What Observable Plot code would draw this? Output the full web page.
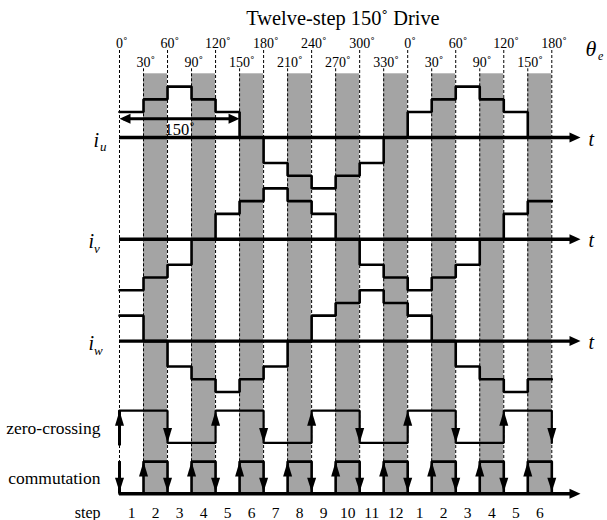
<!DOCTYPE html>
<html><head><meta charset="utf-8">
<script src="https://cdn.jsdelivr.net/npm/d3@7"></script>
<script src="https://cdn.jsdelivr.net/npm/@observablehq/plot@0.6"></script>
<style>
body{margin:0;background:#fff;width:607px;height:520px;overflow:hidden}
#title{position:relative;width:607px;height:30px;font-family:"Liberation Serif","Times New Roman",serif;font-size:20.4px;color:#000}
#title span{position:absolute;left:193px;width:300px;top:8px;line-height:20px;text-align:center;white-space:nowrap}
#chart svg, #chart svg text{font-family:"Liberation Serif","Times New Roman",serif !important}
</style></head>
<body>
<div id="title"><span>Twelve-step 150˚ Drive</span></div>
<div id="chart"></div>
<script>
// ---------- data ----------
const intervalStart = [0,30,60,90,120,150,180,210,240,270,300,330,360,390,420,450,480,510];
const stepLabels = ["1","2","3","4","5","6","7","8","9","10","11","12","1","2","3","4","5","6"];
const iuLevels = [0.5,0.75,1,0.75,0.5,0,-0.5,-0.75,-1,-0.75,-0.5,0,0.5,0.75,1,0.75,0.5,0];
const ivLevels = [-1,-0.75,-0.5,0,0.5,0.75,1,0.75,0.5,0,-0.5,-0.75,-1,-0.75,-0.5,0,0.5,0.75];
const iwLevels = [0.5,0,-0.5,-0.75,-1,-0.75,-0.5,0,0.5,0.75,1,0.75,0.5,0,-0.5,-0.75,-1,-0.75];
const zeroCrossing = [1,1,0,0,1,1,0,0,1,1,0,0,1,1,0,0,1,1];
const commutation = [0,1,0,1,0,1,0,1,0,1,0,1,0,1,0,1,0,1];
const shadedStart = [30,90,150,210,270,330,390,450,510];
const majorAngles = [0,60,120,180,240,300,360,420,480,540];
const majorLabels = ["0˚","60˚","120˚","180˚","240˚","300˚","0˚","60˚","120˚","180˚"];
const minorAngles = [30,90,150,210,270,330,390,450,510];
const minorLabels = ["30˚","90˚","150˚","210˚","270˚","330˚","30˚","90˚","150˚"];
const conduction = 150;
const endAngle = 540;
const phases = ["u","v","w"];

// ---------- layout ----------
const W = 607, H = 490, TOP = 30;
const X0 = 119, X1 = 551.3, PPD = (X1 - X0) / endAngle;
const UNIT = 50.9, BASE_PAGE = 137;
const u = p => (BASE_PAGE - p) / UNIT;      // page y (px) -> y units
const deg = p => (p - X0) / PPD;            // page x (px) -> degrees
const rowBase = [0, -2, -4];
const ZC_LOW = -6, SIG_AMP = 0.633, COMM_BASE = -7;
const GRAY_TOP = u(73.3), EVEN_TOP = u(50), ODD_TOP = u(68.3);
const AXIS_END = deg(574), AXIS_TIP = deg(580);
const serif = "Liberation Serif";

const tri = pts => ({draw(ctx){ctx.moveTo(pts[0][0],pts[0][1]); for (const p of pts.slice(1)) ctx.lineTo(p[0],p[1]); ctx.closePath();}});
const headUp = tri([[0,0],[-4.5,15],[4.5,15]]);
const headDown = tri([[0,0],[-4.5,-15],[4.5,-15]]);
const headDownC = tri([[0,-2],[-4.5,-16],[4.5,-16]]);
const headRight = tri([[0,0],[-11,-5],[-11,5]]);
const headLeft = tri([[0,0],[11,-5],[11,5]]);

const stepPts = (levels, base, amp, final) =>
  [...levels.map((v,i) => ({x: intervalStart[i], y: base + v*amp})),
   {x: endAngle, y: base + (final === undefined ? levels[levels.length-1] : final)*amp}];

function edges(levels) {
  const out = [];
  const n = levels.length;
  for (let i = 0; i <= n; i++) {
    const v = i < n ? levels[i] : 0;
    const prev = i === 0 ? 1 - v : levels[i-1];
    if (v !== prev) out.push({x: i < n ? intervalStart[i] : endAngle, up: v > prev, first: i === 0});
  }
  return out;
}
const zcEdges = edges(zeroCrossing);
const cmEdges = edges(commutation);

const LW = 2.6;
const T = (data, opts) => Plot.text(data, {fill: "black", fontFamily: serif, ...opts});
const marks = [];

// shaded bands
marks.push(Plot.rect(shadedStart, {x1: d => d, x2: d => d + 30, y1: () => COMM_BASE, y2: () => GRAY_TOP, fill: "#a4a4a4"}));
// dashed guide lines
marks.push(Plot.ruleX(majorAngles, {x: d => d, y1: () => EVEN_TOP, y2: () => COMM_BASE, stroke: "black", strokeWidth: 1, strokeDasharray: "3,2"}));
marks.push(Plot.ruleX(minorAngles, {x: d => d, y1: () => ODD_TOP, y2: () => COMM_BASE, stroke: "black", strokeWidth: 1, strokeDasharray: "3,2"}));

// phase currents
[iuLevels, ivLevels, iwLevels].forEach((lv, k) => {
  marks.push(Plot.line(stepPts(lv, rowBase[k], 1), {x: "x", y: "y", curve: "step-after", stroke: "black", strokeWidth: LW, strokeLinejoin: "miter"}));
});

// zero-crossing and commutation signals
marks.push(Plot.line(stepPts(zeroCrossing, ZC_LOW, SIG_AMP, 0), {x: "x", y: "y", curve: "step-after", stroke: "black", strokeWidth: 2.2, strokeLinejoin: "miter"}));
marks.push(Plot.line(stepPts(commutation, COMM_BASE, SIG_AMP, 0), {x: "x", y: "y", curve: "step-after", stroke: "black", strokeWidth: 2.6, strokeLinejoin: "miter"}));
// shafts for the initial edges
marks.push(Plot.ruleX(zcEdges.filter(d => d.first), {x: "x", y1: () => ZC_LOW - 0.06, y2: () => ZC_LOW + SIG_AMP, stroke: "black", strokeWidth: 3}));
marks.push(Plot.ruleX(cmEdges.filter(d => d.first), {x: "x", y1: () => COMM_BASE + SIG_AMP, y2: () => COMM_BASE, stroke: "black", strokeWidth: 3}));
// arrow heads on edges
marks.push(Plot.dot(zcEdges.filter(d => d.up), {x: "x", y: () => ZC_LOW + SIG_AMP, symbol: headUp, fill: "black"}));
marks.push(Plot.dot(zcEdges.filter(d => !d.up), {x: "x", y: () => ZC_LOW, symbol: headDown, fill: "black"}));
marks.push(Plot.dot(cmEdges.filter(d => d.up), {x: "x", y: () => COMM_BASE + SIG_AMP, symbol: headUp, fill: "black"}));
marks.push(Plot.dot(cmEdges.filter(d => !d.up), {x: "x", y: () => COMM_BASE, symbol: headDownC, fill: "black"}));

// time axes
const axisRows = [...rowBase, COMM_BASE];
marks.push(Plot.ruleY(axisRows, {y: d => d, x1: () => 0, x2: () => AXIS_END, stroke: "black", strokeWidth: 3.4}));
marks.push(Plot.dot(axisRows, {x: () => AXIS_TIP, y: d => d, symbol: headRight, fill: "black"}));

// 150° conduction dimension arrow
const DIM_Y = u(118.3);
marks.push(Plot.ruleY([DIM_Y], {y: d => d, x1: () => 5, x2: () => conduction - 5, stroke: "black", strokeWidth: 3}));
marks.push(Plot.dot([0], {x: d => d, y: () => DIM_Y, symbol: headLeft, fill: "black"}));
marks.push(Plot.dot([conduction], {x: d => d, y: () => DIM_Y, symbol: headRight, fill: "black"}));
marks.push(T([conduction], {x: d => d / 2, y: () => u(129.6), text: d => d + "˚", fontSize: 16.5}));

// angle labels
marks.push(T(majorAngles, {x: d => d, y: () => u(43.2), text: (d, i) => majorLabels[i], fontSize: 14, dx: 2.3}));
marks.push(T(minorAngles, {x: d => d, y: () => u(62.2), text: (d, i) => minorLabels[i], fontSize: 14, dx: 2.3}));
marks.push(T(["θ"], {x: () => deg(585), y: () => u(48), text: d => d, fontSize: 22, fontStyle: "italic", textAnchor: "start"}));
marks.push(T(["e"], {x: () => deg(597.5), y: () => u(56), text: d => d, fontSize: 12, fontStyle: "italic", textAnchor: "start"}));

// row labels
const rowLabelX = [[93, 99.5], [88, 93.5], [88, 93.5]];
phases.forEach((p, k) => {
  marks.push(T([p], {x: () => deg(rowLabelX[k][0]), y: () => rowBase[k], text: () => "i", fontSize: 20, fontStyle: "italic", textAnchor: "start", dy: 2.6}));
  marks.push(T([p], {x: () => deg(rowLabelX[k][1]), y: () => rowBase[k], text: d => d, fontSize: 13, fontStyle: "italic", textAnchor: "start", dy: 9.8}));
});
marks.push(T(rowBase, {x: () => deg(588), y: d => d, text: () => "t", fontSize: 20, fontStyle: "italic", textAnchor: "start", dy: 1.6}));

marks.push(T(["zero-crossing"], {x: () => deg(100), y: () => u(427.4), text: d => d, fontSize: 17.5, textAnchor: "end"}));
marks.push(T(["commutation"], {x: () => deg(100), y: () => u(477.7), text: d => d, fontSize: 17.5, textAnchor: "end"}));
marks.push(T(["step"], {x: () => deg(100), y: () => u(512.4), text: d => d, fontSize: 16, textAnchor: "end"}));
marks.push(T(intervalStart, {x: d => d + 15, y: () => u(512.7), text: (d, i) => stepLabels[i], fontSize: 15.5}));

const chart = Plot.plot({
  width: W, height: H,
  marginLeft: 0, marginRight: 0, marginTop: 0, marginBottom: 0,
  x: {domain: [0, endAngle], range: [X0, X1], axis: null},
  y: {domain: [u(TOP + H), u(TOP)], range: [H, 0], axis: null},
  style: {background: "white", color: "black"},
  marks
});
chart.setAttribute("font-family", serif);
document.getElementById("chart").appendChild(chart);
</script>
</body></html>
